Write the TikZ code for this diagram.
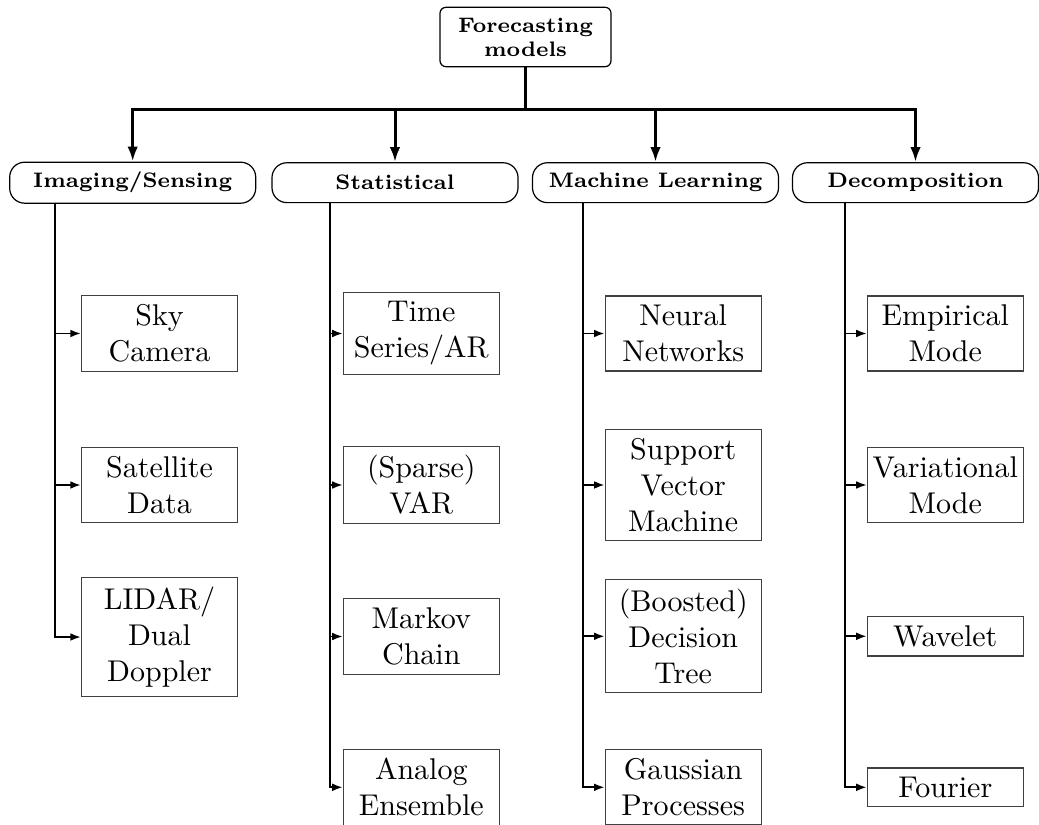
\documentclass[tikz,border=0pt]{standalone}
\usetikzlibrary{arrows.meta}
\begin{document}
\begin{tikzpicture}[x=0.3333pt, y=-0.3333pt,
    rootStyle/.style={draw, rounded corners=2pt, align=center, font=\scriptsize\bfseries, minimum width=57pt, minimum height=19.8pt},
    catStyle/.style={draw, rounded corners=5pt, font=\scriptsize\bfseries, minimum width=82pt, minimum height=13.3pt},
    leafStyle/.style={draw=black!75, align=center, minimum width=52pt, inner xsep=1pt, inner ysep=3pt},
    trunkStyle/.style={line width=1pt},
    downStyle/.style={line width=1pt, -{Latex[length=5pt,width=3.5pt]}},
    branchStyle/.style={semithick, -{Latex[length=3.5pt,width=2.6pt]}}]
    \useasboundingbox (0,0) rectangle (1039,825);

    % root and categories
    \node[rootStyle](root) at (525.5, 37) {Forecasting\\models};
    \coordinate (hub) at (525.5, 109.3);
    \node[catStyle](img) at (132.7, 182.7) {Imaging/Sensing};
    \node[catStyle](stat) at (395, 182.7) {Statistical};
    \node[catStyle](ml) at (655.5, 182.7) {Machine Learning};
    \node[catStyle](dec) at (915.5, 182.7) {Decomposition};

    \draw[trunkStyle] (root) -- (hub);
    \draw[downStyle] (hub) -| (img);
    \draw[downStyle] (hub) -| (stat);
    \draw[downStyle] (hub) -| (ml);
    \draw[downStyle] (hub) -| (dec);

    % stems
    \coordinate (imgStem) at (55, 202.7);
    \coordinate (statStem) at (330, 202.7);
    \coordinate (mlStem) at (582.7, 202.7);
    \coordinate (decStem) at (845, 202.7);

    % Imaging/Sensing
    \node[leafStyle](sky) at (159.5, 333.5) {Sky\\Camera};
    \node[leafStyle](sat) at (159.5, 485) {Satellite\\Data};
    \node[leafStyle](lidar) at (159.5, 637) {LIDAR/\\Dual\\Doppler};

    % Statistical
    \node[leafStyle](ar) at (421.3, 333.5) {Time\\Series/AR};
    \node[leafStyle](var) at (421.3, 485) {(Sparse)\\VAR};
    \node[leafStyle](markov) at (421.3, 636.5) {Markov\\Chain};
    \node[leafStyle](analog) at (421.3, 787.3) {Analog\\Ensemble};

    % Machine Learning
    \node[leafStyle](nn) at (683.2, 333.5) {Neural\\Networks};
    \node[leafStyle](svm) at (683.2, 485) {Support\\Vector\\Machine};
    \node[leafStyle](tree) at (683.2, 636.3) {(Boosted)\\Decision\\Tree};
    \node[leafStyle](gp) at (683.2, 787.3) {Gaussian\\Processes};

    % Decomposition
    \node[leafStyle](emd) at (945.3, 333.5) {Empirical\\Mode};
    \node[leafStyle](vmd) at (945.3, 485) {Variational\\Mode};
    \node[leafStyle](wav) at (945.3, 636.3) {Wavelet};
    \node[leafStyle](fou) at (945.3, 787.3) {Fourier};

    \draw[branchStyle] (imgStem) |- (sky.west);
    \draw[branchStyle] (imgStem) |- (sat.west);
    \draw[branchStyle] (imgStem) |- (lidar.west);

    \draw[branchStyle] (statStem) |- (ar.west);
    \draw[branchStyle] (statStem) |- (var.west);
    \draw[branchStyle] (statStem) |- (markov.west);
    \draw[branchStyle] (statStem) |- (analog.west);

    \draw[branchStyle] (mlStem) |- (nn.west);
    \draw[branchStyle] (mlStem) |- (svm.west);
    \draw[branchStyle] (mlStem) |- (tree.west);
    \draw[branchStyle] (mlStem) |- (gp.west);

    \draw[branchStyle] (decStem) |- (emd.west);
    \draw[branchStyle] (decStem) |- (vmd.west);
    \draw[branchStyle] (decStem) |- (wav.west);
    \draw[branchStyle] (decStem) |- (fou.west);
\end{tikzpicture}
\end{document}
